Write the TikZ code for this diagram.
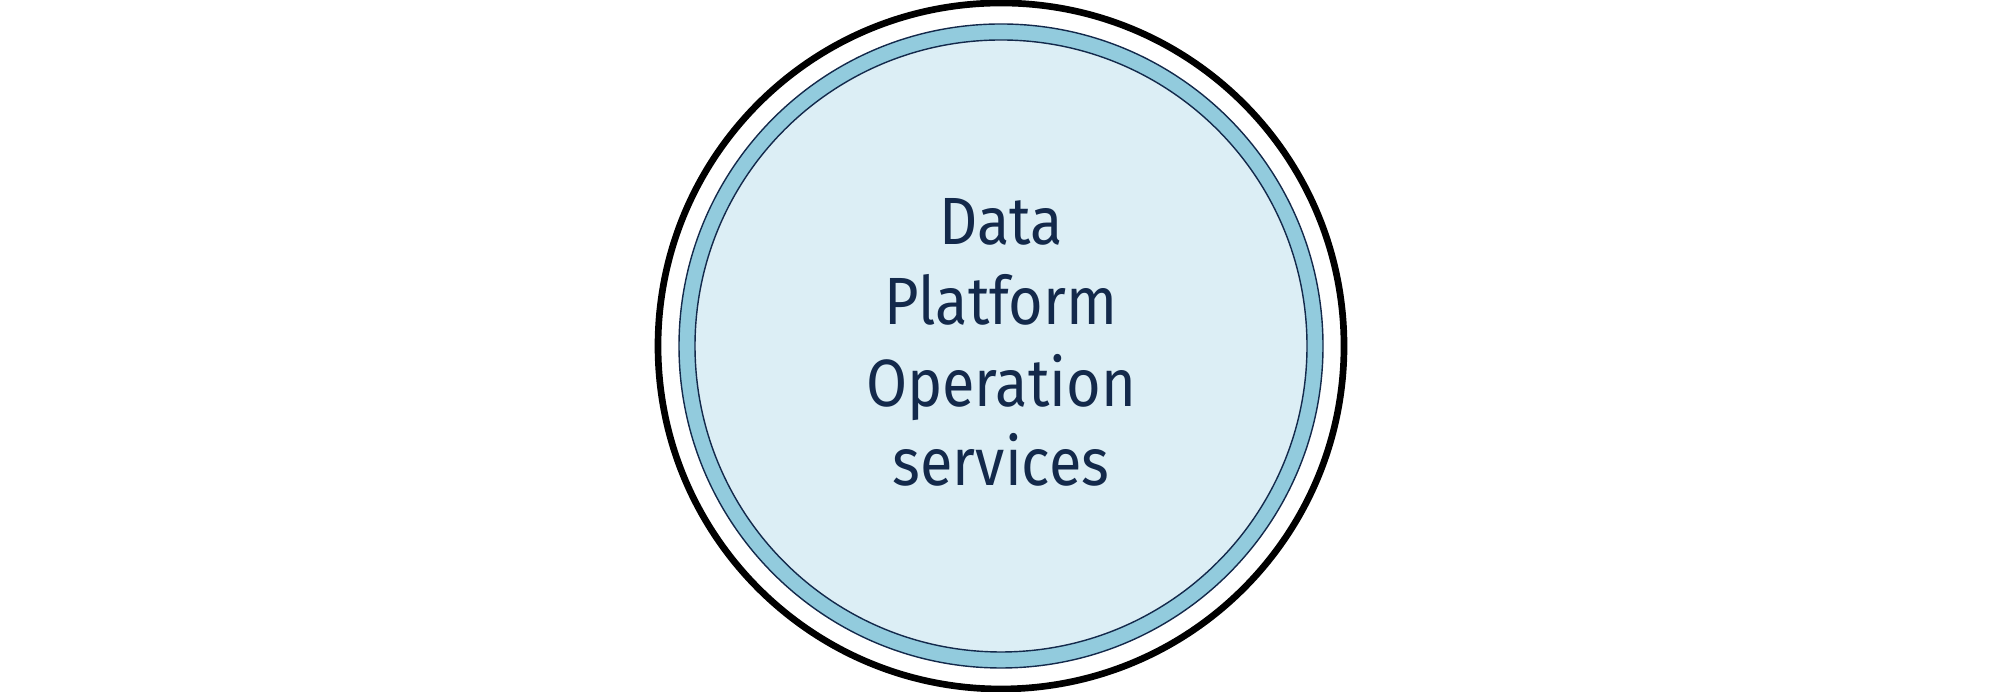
\documentclass[tikz,border=0pt]{standalone}
\usepackage{fontspec}
\setmainfont[FakeStretch=0.89]{Fira Sans}
\definecolor{ringblue}{HTML}{92CBDD}
\definecolor{paleblue}{HTML}{DCEEF5}
\definecolor{navy}{HTML}{13294B}
\begin{document}
\begin{tikzpicture}[x=0.01cm,y=0.01cm,
  txt/.style={anchor=base,text=navy,font=\fontsize{19}{23}\selectfont,inner sep=0pt}]
\useasboundingbox (0,0) rectangle (2000,692);
\node[circle,draw=black,line width=1.9pt,minimum size=686*0.01cm,inner sep=0pt] (outer) at (1001,346) {};
\node[circle,draw=navy,fill=ringblue,line width=0.4pt,minimum size=644*0.01cm,inner sep=0pt] (ring) at (1001,346) {};
\node[circle,draw=navy,fill=paleblue,line width=0.4pt,minimum size=612*0.01cm,inner sep=0pt] (core) at (1001,346) {};
\node[txt] (l1) at (1001,447) {Data};
\node[txt] (l2) at (1001,367) {Platform};
\node[txt] (l3) at (1001,285) {Operation};
\node[txt] (l4) at (1001,206) {services};
\end{tikzpicture}
\end{document}
